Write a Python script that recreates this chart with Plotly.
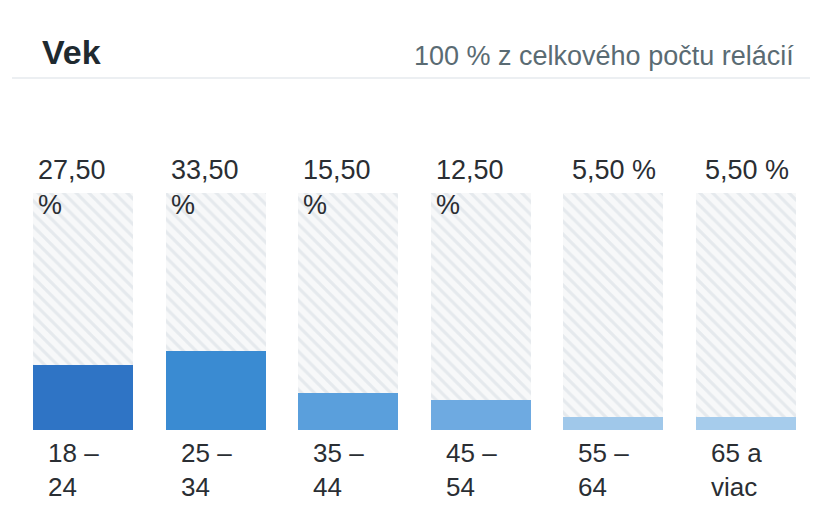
import plotly.graph_objects as go

categories = ["18 –<br>24", "25 –<br>34", "35 –<br>44", "45 –<br>54", "55 –<br>64", "65 a<br>viac"]
values = [27.5, 33.5, 15.5, 12.5, 5.5, 5.5]
total = 100
title_text = "Vek"
subtitle_text = "100 % z celkového počtu relácií"

bar_colors = ["#2f74c5", "#3a8bd2", "#5a9fdc", "#6eaae1", "#a0c8ea", "#a6ccec"]
FONT = "Liberation Sans, Arial, sans-serif"
TXT = "#2a2e33"

x = list(range(len(categories)))

fig = go.Figure()
fig.add_trace(go.Bar(
    x=x, y=[total] * len(x), width=0.754,
    marker=dict(color="#ffffff", line=dict(width=0),
                pattern=dict(shape="\\", fgcolor="#d3dae1", bgcolor="#f7f8f9", size=9, solidity=0.35)),
    hoverinfo="skip", showlegend=False,
))
fig.add_trace(go.Bar(
    x=x, y=values, width=0.754,
    marker=dict(color=bar_colors, line=dict(width=0)),
    showlegend=False,
))

def fmt(v):
    s = f"{v:.2f}".replace(".", ",")
    return s + ("<br>%" if v >= 10 else " %")

annotations = []
for i, (c, v) in enumerate(zip(categories, values)):
    two = v >= 10
    annotations.append(dict(
        x=i, xref="x", y=1, yref="paper", yanchor="top", yshift=40,
        xanchor="left" if two else "center", xshift=-47 if two else 1,
        align="left", showarrow=False, text=fmt(v),
        font=dict(family=FONT, size=27, color=TXT),
    ))
    annotations.append(dict(
        x=i, xref="x", y=0, yref="paper", yanchor="top", yshift=-6,
        xanchor="left", xshift=-37, align="left", showarrow=False, text=c,
        font=dict(family=FONT, size=26, color=TXT),
    ))

fig.update_layout(
    width=819, height=511,
    margin=dict(l=0, r=0, t=193, b=81),
    paper_bgcolor="white", plot_bgcolor="white",
    barmode="overlay", bargap=0,
    xaxis=dict(range=[-0.626, 5.55], visible=False, fixedrange=True),
    yaxis=dict(range=[0, total], visible=False, fixedrange=True),
    annotations=annotations + [
        dict(x=40 / 819, xref="paper", y=(430 - 52) / 237, yref="paper",
             xanchor="left", yanchor="middle", showarrow=False,
             text="<b>" + title_text + "</b>",
             font=dict(family=FONT, size=34, color="#1f2a30")),
        dict(x=796 / 819, xref="paper", y=(430 - 56) / 237, yref="paper",
             xanchor="right", yanchor="middle", showarrow=False,
             text=subtitle_text,
             font=dict(family=FONT, size=27, color="#5a6b73")),
    ],
    shapes=[dict(type="line", xref="paper", yref="paper",
                 x0=12 / 819, x1=810 / 819, y0=(430 - 78) / 237, y1=(430 - 78) / 237,
                 line=dict(color="#eceff2", width=2))],
)

fig.write_html("out.html")
